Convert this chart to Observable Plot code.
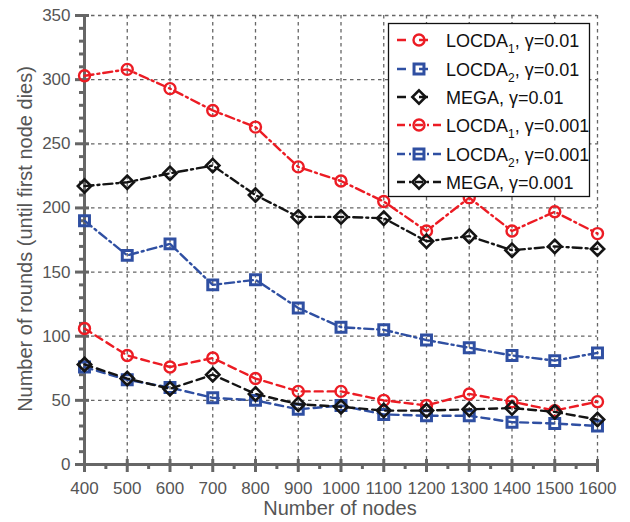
<!DOCTYPE html>
<html>
<head>
<meta charset="utf-8">
<script src="https://cdn.jsdelivr.net/npm/d3@7"></script>
<script src="https://cdn.jsdelivr.net/npm/@observablehq/plot@0.6"></script>
<style>
  html, body { margin: 0; padding: 0; background: #fff; }
  #chart svg { display: block; }
</style>
</head>
<body>
<div id="chart"></div>
<script>
// ---- data ----
const nodes = [400, 500, 600, 700, 800, 900, 1000, 1100, 1200, 1300, 1400, 1500, 1600];
const locda1_g001 = [106, 85, 76, 83, 67, 57, 57, 50, 46, 55, 49, 42, 49];   // LOCDA1, γ=0.01
const locda2_g001 = [76, 66, 60, 52, 50, 43, 46, 39, 38, 38, 33, 32, 30];    // LOCDA2, γ=0.01
const mega_g001   = [78, 67, 59, 70, 55, 47, 45, 42, 42, 43, 44, 41, 35];    // MEGA, γ=0.01
const locda1_g0001 = [303, 308, 293, 276, 263, 232, 221, 205, 182, 208, 182, 197, 180]; // LOCDA1, γ=0.001
const locda2_g0001 = [190, 163, 172, 140, 144, 122, 107, 105, 97, 91, 85, 81, 87];      // LOCDA2, γ=0.001
const mega_g0001   = [217, 220, 227, 233, 210, 193, 193, 192, 174, 178, 167, 170, 168]; // MEGA, γ=0.001

const xTicks = [400, 500, 600, 700, 800, 900, 1000, 1100, 1200, 1300, 1400, 1500, 1600];
const yTicks = [0, 50, 100, 150, 200, 250, 300, 350];
const xLabel = "Number of nodes";
const yLabel = "Number of rounds (until first node dies)";

const RED = "#ec1c24", BLUE = "#2f4fa2", BLACK = "#141414";
const DASH = "8,5", DASHDOT = "9,4,2,4";

const series = [
  {name: "LOCDA", sub: "1", gamma: "0.01",  values: locda1_g001,  color: RED,   dash: DASH,    symbol: "circle",   r: 5.5, sw: 2.4},
  {name: "LOCDA", sub: "2", gamma: "0.01",  values: locda2_g001,  color: BLUE,  dash: DASH,    symbol: "square",   r: 5.6, sw: 3},
  {name: "MEGA",  sub: "",  gamma: "0.01",  values: mega_g001,    color: BLACK, dash: DASH,    symbol: "diamond2", r: 6,   sw: 2.6},
  {name: "LOCDA", sub: "1", gamma: "0.001", values: locda1_g0001, color: RED,   dash: DASHDOT, symbol: "circle",   r: 5.5, sw: 2.4},
  {name: "LOCDA", sub: "2", gamma: "0.001", values: locda2_g0001, color: BLUE,  dash: DASHDOT, symbol: "square",   r: 5.6, sw: 3},
  {name: "MEGA",  sub: "",  gamma: "0.001", values: mega_g0001,   color: BLACK, dash: DASHDOT, symbol: "diamond2", r: 6,   sw: 2.6}
];

const rowsOf = s => nodes.map((n, i) => ({x: n, y: s.values[i]}));

const xMinor = d3.range(450, 1600, 100);
const yMinor = d3.range(0, 351, 10).filter(v => v % 50 !== 0);
const AX = "#666666";
const FONT = "'Liberation Sans', Arial, Helvetica, sans-serif";
const fmt = d => String(d);
const X0 = 400, Y0 = 0; // axis origin (domain minimums)

const dataMarks = [];
for (const s of series) {
  dataMarks.push(Plot.line(rowsOf(s), {x: "x", y: "y", stroke: s.color, strokeWidth: 2.4, strokeDasharray: s.dash, strokeLinejoin: "round"}));
  dataMarks.push(Plot.dot(rowsOf(s), {x: "x", y: "y", symbol: () => s.symbol, r: s.r, stroke: s.color, strokeWidth: s.sw, fill: "none"}));
}

const plot = Plot.plot({
  width: 630,
  height: 522,
  marginLeft: 84,
  marginRight: 33,
  marginTop: 15,
  marginBottom: 58,
  style: {fontFamily: FONT, fontSize: "17px", background: "white", overflow: "visible"},
  x: {domain: [400, 1600], label: null},
  y: {domain: [0, 350], label: null},
  symbol: {type: "identity"},
  marks: [
    Plot.gridX({ticks: xTicks, stroke: "#666", strokeOpacity: 1, strokeWidth: 1.3, strokeDasharray: "3.5,3.5"}),
    Plot.gridY({ticks: yTicks, stroke: "#666", strokeOpacity: 1, strokeWidth: 1.3, strokeDasharray: "3.5,3.5"}),
    // axis lines
    Plot.ruleX([X0], {stroke: AX, strokeWidth: 3}),
    Plot.ruleY([Y0], {stroke: AX, strokeWidth: 3}),
    // major/minor ticks (zero-length rules at the axis, extended by negative insets)
    Plot.ruleX(xTicks, {x: d => d, y1: Y0, y2: Y0, insetTop: -5, insetBottom: -8, stroke: AX, strokeWidth: 3}),
    Plot.ruleX(xMinor, {x: d => d, y1: Y0, y2: Y0, insetTop: 0, insetBottom: -5, stroke: AX, strokeWidth: 3}),
    Plot.ruleY(yTicks, {y: d => d, x1: X0, x2: X0, insetLeft: -9, insetRight: -5, stroke: AX, strokeWidth: 3}),
    Plot.ruleY(yMinor, {y: d => d, x1: X0, x2: X0, insetLeft: -5, insetRight: 0, stroke: AX, strokeWidth: 3}),
    // tick labels
    Plot.axisX({ticks: xTicks, tickSize: 0, tickPadding: 17, fontSize: 17, fill: "#555", tickFormat: fmt, label: null}),
    Plot.axisY({ticks: yTicks, tickSize: 0, tickPadding: 14, fontSize: 17, fill: "#555", tickFormat: fmt, label: null}),
    ...dataMarks
  ]
});

document.getElementById("chart").appendChild(plot);

// ---- axis titles and legend (drawn with d3 on the Plot SVG) ----
const svg = d3.select(plot);
svg.append("text")
  .attr("x", 340).attr("y", 515)
  .attr("text-anchor", "middle")
  .attr("font-family", FONT).attr("font-size", 20).attr("fill", "#555")
  .text(xLabel);
svg.append("text")
  .attr("transform", "translate(32,239) rotate(-90)")
  .attr("text-anchor", "middle")
  .attr("font-family", FONT).attr("font-size", 20).attr("fill", "#555")
  .text(yLabel);

const lg = svg.append("g");
lg.append("rect")
  .attr("x", 388.5).attr("y", 23.5).attr("width", 201).attr("height", 173)
  .attr("fill", "white").attr("stroke", "#111").attr("stroke-width", 1.3);
const symMap = {circle: d3.symbolCircle, square: d3.symbolSquare, diamond2: d3.symbolDiamond2};
const rowY = [40, 69, 97, 125, 154, 182];
series.forEach((s, i) => {
  const y = rowY[i];
  lg.append("line")
    .attr("x1", 397).attr("x2", 441).attr("y1", y).attr("y2", y)
    .attr("stroke", s.color).attr("stroke-width", 2.4)
    .attr("stroke-dasharray", s.dash === DASH ? "9,13" : "8,4,2,4");
  lg.append("path")
    .attr("transform", `translate(419,${y})`)
    .attr("d", d3.symbol(symMap[s.symbol], Math.PI * s.r * s.r)())
    .attr("fill", "none").attr("stroke", s.color).attr("stroke-width", s.sw);
  const t = lg.append("text")
    .attr("x", 446).attr("y", y + 7)
    .attr("text-anchor", "start")
    .attr("font-family", FONT).attr("font-size", 18).attr("fill", "#111");
  t.append("tspan").text(s.name);
  if (s.sub) {
    t.append("tspan").attr("dy", 6).attr("font-size", 12).text(s.sub);
    t.append("tspan").attr("dy", -6).text(", \u03b3=" + s.gamma);
  } else {
    t.append("tspan").text(", \u03b3=" + s.gamma);
  }
});
</script>
</body>
</html>
